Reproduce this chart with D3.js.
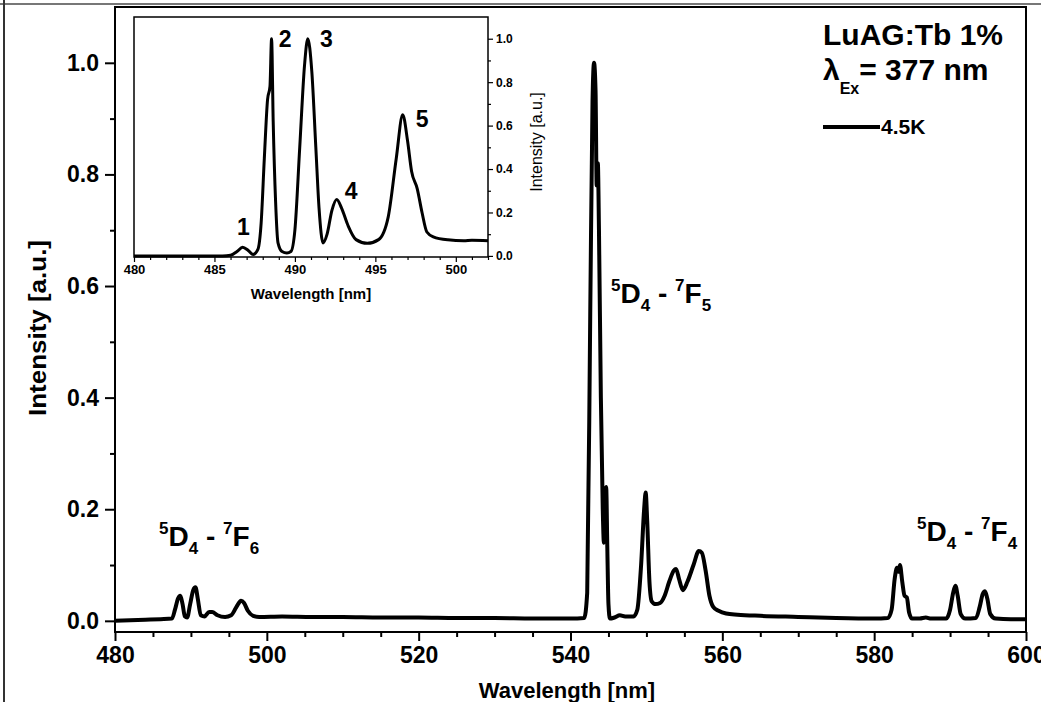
<!DOCTYPE html>
<html><head><meta charset="utf-8">
<script src="https://cdn.jsdelivr.net/npm/d3@7"></script>
<style>
body{margin:0;background:#fff;}
svg text{font-family:"Liberation Sans",Arial,sans-serif;font-weight:bold;fill:#000;}
</style></head><body>
<svg id="c" width="1041" height="702"></svg>
<script>
// ---------- data ----------
const mainWavelength = [480,482,484,486,487.5,487.9,488.3,488.6,488.9,489.2,489.5,489.9,490.3,490.6,490.9,491.3,491.8,492.4,492.8,493.5,494.5,495.3,496.0,496.6,497.0,497.5,498.2,499,502,506,510,515,520,525,530,535,540,541.8,542.2,542.6,542.9,543.1,543.3,543.45,543.6,543.75,544.0,544.25,544.4,544.55,544.7,544.85,545.0,545.2,545.8,546.5,547.2,548.3,548.8,549.3,549.7,549.9,550.1,550.4,550.7,551.2,551.8,552.4,553.0,553.6,553.9,554.3,554.8,555.4,556.2,556.9,557.3,557.8,558.3,558.8,559.5,560.5,562,565,570,575,580,581.8,582.3,582.7,583.0,583.2,583.4,583.7,584.0,584.3,584.6,585.0,586,586.8,587.5,589.5,590.0,590.4,590.7,591.0,591.4,592,593.4,593.9,594.3,594.6,594.9,595.3,596,598,600];
const mainIntensity = [0.000,0.001,0.002,0.003,0.004,0.020,0.040,0.045,0.030,0.008,0.006,0.030,0.055,0.060,0.040,0.010,0.008,0.016,0.016,0.010,0.007,0.010,0.025,0.036,0.032,0.018,0.009,0.007,0.008,0.007,0.007,0.006,0.006,0.005,0.005,0.004,0.004,0.005,0.050,0.550,0.930,1.000,0.950,0.780,0.820,0.700,0.400,0.200,0.140,0.230,0.240,0.130,0.030,0.004,0.006,0.010,0.008,0.008,0.020,0.100,0.200,0.230,0.180,0.070,0.035,0.030,0.032,0.045,0.070,0.090,0.093,0.075,0.055,0.070,0.100,0.125,0.122,0.090,0.045,0.025,0.018,0.013,0.011,0.009,0.007,0.005,0.004,0.005,0.020,0.075,0.095,0.088,0.100,0.070,0.045,0.042,0.015,0.004,0.004,0.006,0.004,0.004,0.020,0.050,0.063,0.045,0.012,0.004,0.005,0.025,0.048,0.053,0.040,0.012,0.004,0.003,0.003];

const insetWavelength = [480,483,485.5,486.0,486.4,486.75,487.1,487.4,487.7,487.9,488.1,488.3,488.45,488.55,488.65,488.8,488.95,489.2,489.5,489.75,490.0,490.3,490.6,490.8,491.05,491.3,491.5,491.75,492.0,492.3,492.6,492.9,493.3,493.8,494.5,495.2,495.8,496.3,496.7,497.0,497.25,497.6,497.9,498.2,498.6,499.5,500.5,501,502];
const insetIntensity = [0.000,0.000,0.000,0.003,0.020,0.040,0.025,0.006,0.030,0.150,0.450,0.720,0.780,1.000,0.620,0.250,0.060,0.020,0.013,0.020,0.120,0.500,0.880,1.000,0.850,0.500,0.220,0.060,0.100,0.210,0.260,0.220,0.140,0.075,0.058,0.075,0.180,0.450,0.650,0.530,0.390,0.310,0.200,0.110,0.088,0.074,0.070,0.072,0.070];

const mainXTicks = [480,500,520,540,560,580,600];
const mainXMinor = [485,490,495,505,510,515,525,530,535,545,550,555,565,570,575,585,590,595];
const mainYTicks = [0,0.2,0.4,0.6,0.8,1.0];
const mainYMinor = [0.1,0.3,0.5,0.7,0.9];
const insetXTicks = [480,485,490,495,500];
const insetXMinor = [481,482,483,484,486,487,488,489,491,492,493,494,496,497,498,499,501,502];
const insetYTicks = [0,0.2,0.4,0.6,0.8,1.0];
const insetYMinor = [0.1,0.3,0.5,0.7,0.9];

const peakLabels = ["1","2","3","4","5"];
const peakLabelX = [486.8,489.4,491.95,493.5,497.9];
const peakLabelY = [0.095,0.96,0.96,0.26,0.595];

const xTitle = "Wavelength [nm]";
const yTitle = "Intensity [a.u.]";
const sampleTitle = "LuAG:Tb 1%";
const legendLabel = "4.5K";

// ---------- layout ----------
const svg = d3.select("#c");
const M = {left:115, right:1026, top:7, bottom:632};
const x = d3.scaleLinear().domain([480,600]).range([M.left,M.right]);
const y = d3.scaleLinear().domain([-0.02,1.1]).range([M.bottom,M.top]);

// outer frame lines
svg.append("line").attr("x1",0).attr("x2",1041).attr("y1",4).attr("y2",4).attr("stroke","#777").attr("stroke-width",2);
svg.append("line").attr("x1",4).attr("x2",4).attr("y1",0).attr("y2",702).attr("stroke","#333").attr("stroke-width",2);

// plot frame
svg.append("rect").attr("x",M.left).attr("y",M.top).attr("width",M.right-M.left).attr("height",M.bottom-M.top)
  .attr("fill","none").attr("stroke","#000").attr("stroke-width",2);

// axes
const gx = svg.append("g").attr("transform",`translate(0,${M.bottom})`)
  .call(d3.axisBottom(x).tickValues(mainXTicks).tickFormat(d3.format("d")).tickSize(9).tickPadding(6));
const gxm = svg.append("g").attr("transform",`translate(0,${M.bottom})`)
  .call(d3.axisBottom(x).tickValues(mainXMinor).tickFormat("").tickSize(5));
const gy = svg.append("g").attr("transform",`translate(${M.left},0)`)
  .call(d3.axisLeft(y).tickValues(mainYTicks).tickFormat(d3.format(".1f")).tickSize(10).tickPadding(6));
const gym = svg.append("g").attr("transform",`translate(${M.left},0)`)
  .call(d3.axisLeft(y).tickValues(mainYMinor).tickFormat("").tickSize(5));
[gx,gxm,gy,gym].forEach(g=>{
  g.select(".domain").remove();
  g.selectAll(".tick line").attr("stroke","#000").attr("stroke-width",2);
  g.selectAll("text").style("font-size","23px").style("font-family","Liberation Sans, Arial, sans-serif").style("font-weight","bold").attr("fill","#000");
});
gx.selectAll("text").attr("dy","0.71em");

// axis titles
svg.append("text").attr("x",567).attr("y",698).attr("text-anchor","middle")
  .style("font-size","22px").text(xTitle);
svg.append("text").attr("transform",`translate(46,328) rotate(-90)`).attr("text-anchor","middle")
  .attr("textLength",176).attr("lengthAdjust","spacingAndGlyphs")
  .style("font-size","23px").text(yTitle);

// main curve
const line = d3.line().x(d=>x(d[0])).y(d=>y(d[1])).curve(d3.curveMonotoneX);
svg.append("path").datum(d3.zip(mainWavelength,mainIntensity)).attr("d",line)
  .attr("fill","none").attr("stroke","#000").attr("stroke-width",4).attr("stroke-linejoin","round");

// transition labels
function term(xpos, ybase, sup1, L1, sub1, sup2, L2, sub2){
  const t = svg.append("text").attr("x",xpos).attr("y",ybase).style("font-size","28px");
  t.append("tspan").text(sup1).style("font-size","17px").attr("dy",-12);
  t.append("tspan").text(L1).attr("dy",12);
  t.append("tspan").text(sub1).style("font-size","17px").attr("dy",8);
  t.append("tspan").text(" - ").attr("dy",-8);
  t.append("tspan").text(sup2).style("font-size","17px").attr("dy",-12);
  t.append("tspan").text(L2).attr("dy",12);
  t.append("tspan").text(sub2).style("font-size","17px").attr("dy",8);
}
term(159,546,"5","D","4","7","F","6");
term(611,303,"5","D","4","7","F","5");
term(917,541,"5","D","4","7","F","4");

// sample text and legend
svg.append("text").attr("x",823).attr("y",45).style("font-size","30px").text(sampleTitle);
const lt = svg.append("text").attr("x",823).attr("y",80).style("font-size","30px");
lt.append("tspan").text("λ");
lt.append("tspan").text("Ex").style("font-size","16px").attr("dy",14);
lt.append("tspan").text("= 377 nm").attr("dy",-14);
svg.append("line").attr("x1",823).attr("x2",880).attr("y1",127).attr("y2",127).attr("stroke","#000").attr("stroke-width",4);
svg.append("text").attr("x",881).attr("y",134).style("font-size","21px").text(legendLabel);

// ---------- inset ----------
const I = {left:134, right:488, top:17, bottom:257};
const xi = d3.scaleLinear().domain([480,502]).range([I.left,I.right]);
const yi = d3.scaleLinear().domain([-0.005,1.1]).range([I.bottom,I.top]);
svg.append("rect").attr("x",I.left).attr("y",I.top).attr("width",I.right-I.left).attr("height",I.bottom-I.top)
  .attr("fill","#fff").attr("stroke","#000").attr("stroke-width",1.5);
const ix = svg.append("g").attr("transform",`translate(0,${I.bottom})`)
  .call(d3.axisBottom(xi).tickValues(insetXTicks).tickFormat(d3.format("d")).tickSize(5).tickPadding(3));
const ixm = svg.append("g").attr("transform",`translate(0,${I.bottom})`)
  .call(d3.axisBottom(xi).tickValues(insetXMinor).tickFormat("").tickSize(3));
const iy = svg.append("g").attr("transform",`translate(${I.right},0)`)
  .call(d3.axisRight(yi).tickValues(insetYTicks).tickFormat(d3.format(".1f")).tickSize(5).tickPadding(3));
const iym = svg.append("g").attr("transform",`translate(${I.right},0)`)
  .call(d3.axisRight(yi).tickValues(insetYMinor).tickFormat("").tickSize(3));
[ix,ixm,iy,iym].forEach(g=>{
  g.select(".domain").remove();
  g.selectAll(".tick line").attr("stroke","#000").attr("stroke-width",1.2);
  g.selectAll("text").style("font-size","12px").style("font-family","Liberation Sans, Arial, sans-serif").style("font-weight","bold").attr("fill","#000");
});
ix.selectAll("text").style("font-size","13px");
svg.append("text").attr("x",(I.left+I.right)/2).attr("y",299).attr("text-anchor","middle")
  .style("font-size","15px").text(xTitle);
svg.append("text").attr("transform",`translate(542,142) rotate(-90)`).attr("text-anchor","middle")
  .style("font-size","16px").style("font-weight","normal").text(yTitle);
svg.append("path").datum(d3.zip(insetWavelength,insetIntensity)).attr("d",line.x(d=>xi(d[0])).y(d=>yi(d[1])))
  .attr("fill","none").attr("stroke","#000").attr("stroke-width",3).attr("stroke-linejoin","round");
svg.selectAll(".peaklab").data(peakLabels).enter().append("text").attr("class","peaklab")
  .attr("x",(d,i)=>xi(peakLabelX[i])).attr("y",(d,i)=>yi(peakLabelY[i])).attr("text-anchor","middle")
  .style("font-size","23px").text(d=>d);
</script></body></html>
